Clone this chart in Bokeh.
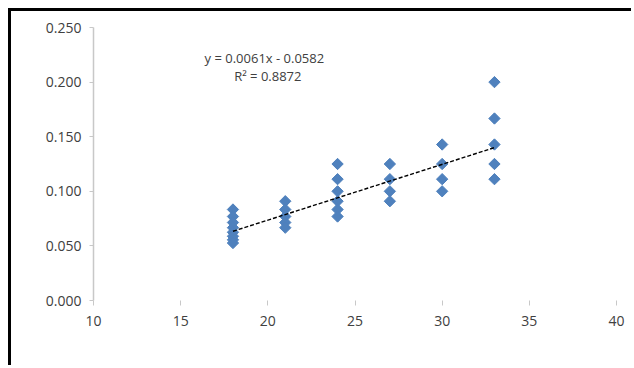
import numpy as np
from bokeh.plotting import figure
from bokeh.models import (Label, FixedTicker, NumeralTickFormatter,
                          Range1d, ColumnDataSource)
from bokeh.embed import file_html
from bokeh.resources import INLINE

# ---- data ----
x18 = [18] * 8
y18 = [1/12, 1/13, 1/14, 1/15, 1/16, 1/17, 1/18, 1/19]
x21 = [21] * 5
y21 = [1/11, 1/12, 1/13, 1/14, 1/15]
x24 = [24] * 6
y24 = [1/8, 1/9, 1/10, 1/11, 1/12, 1/13]
x27 = [27] * 4
y27 = [1/8, 1/9, 1/10, 1/11]
x30 = [30] * 4
y30 = [1/7, 1/8, 1/9, 1/10]
x33 = [33] * 5
y33 = [1/5, 1/6, 1/7, 1/8, 1/9]

xs = x18 + x21 + x24 + x27 + x30 + x33
ys = y18 + y21 + y24 + y27 + y30 + y33

trend_x = [18, 33]
trend_y = [0.0634, 0.1400]

eq_text = "y = 0.0061x - 0.0582"
r2_text = "R² = 0.8872"

x_ticks = [10, 15, 20, 25, 30, 35, 40]
y_ticks = [0.0, 0.05, 0.10, 0.15, 0.20, 0.25]

FONT = "Open Sans"
TXT = "#404040"

# figure is offset by the chart's outer border (8px margin + 3px line)
p = figure(width=623, height=357, output_backend="svg", toolbar_location=None,
           x_range=Range1d(10, 40), y_range=Range1d(0, 0.25),
           min_border_left=82, min_border_right=18, min_border_top=16, min_border_bottom=68)
p.styles = {"position": "absolute", "left": "8px", "top": "8px",
            "border-left": "3px solid black", "border-top": "3px solid black"}
p.outline_line_color = None
p.xgrid.visible = False
p.ygrid.visible = False
p.background_fill_color = "white"
p.border_fill_color = "white"

# axes
p.xaxis.ticker = FixedTicker(ticks=x_ticks)
p.yaxis.ticker = FixedTicker(ticks=y_ticks)
p.yaxis.formatter = NumeralTickFormatter(format="0.000")
for ax in (p.xaxis[0], p.yaxis[0]):
    ax.major_label_text_font = FONT
    ax.major_label_text_font_size = "14px"
    ax.major_label_text_color = TXT
    ax.minor_tick_line_color = None
    ax.major_tick_in = 0
    ax.major_tick_line_color = "#C8C8C8"
p.xaxis.axis_line_color = None
p.xaxis.major_tick_out = 5
p.xaxis.major_label_standoff = 10
p.yaxis.axis_line_color = "#C8C8C8"
p.yaxis.axis_line_width = 1.5
p.yaxis.major_tick_out = 4
p.yaxis.major_label_standoff = 8

src = ColumnDataSource(dict(x=xs, y=ys))
p.scatter("x", "y", source=src, marker="square", angle=np.pi / 4, size=8,
          fill_color="#4F81BD", line_color="#4F81BD", line_width=1)

p.line(trend_x, trend_y, line_color="black", line_width=1.4, line_dash="4 2")

p.add_layout(Label(x=19.8, y=0.222, text=eq_text, text_align="center",
                   text_baseline="middle", text_font=FONT, text_font_size="13px",
                   text_color=TXT))
p.add_layout(Label(x=20.0, y=0.2055, text=r2_text, text_align="center",
                   text_baseline="middle", text_font=FONT, text_font_size="13px",
                   text_color=TXT))

open("out.html", "w").write(file_html(p, INLINE))
